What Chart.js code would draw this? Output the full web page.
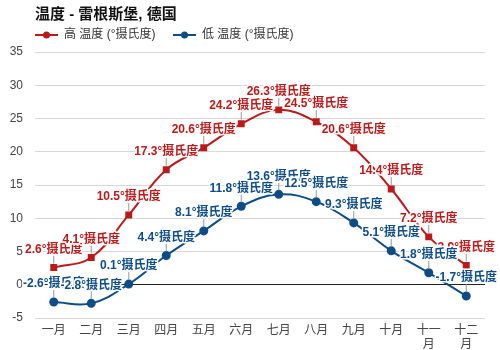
<!DOCTYPE html>
<html>
<head>
<meta charset="utf-8">
<script src="https://cdn.jsdelivr.net/npm/chart.js@4"></script>
<style>
  html, body { margin: 0; padding: 0; background: #fff; }
  #wrap { width: 500px; height: 350px; }
</style>
</head>
<body>
<div id="wrap"><canvas id="tempChart"></canvas></div>
<script>
const months = ["一月", "二月", "三月", "四月", "五月", "六月", "七月", "八月", "九月", "十月", ["十一", "月"], ["十二", "月"]];
const highTemps = [2.6, 4.1, 10.5, 17.3, 20.6, 24.2, 26.3, 24.5, 20.6, 14.4, 7.2, 2.9];
const lowTemps = [-2.6, -2.8, 0.1, 4.4, 8.1, 11.8, 13.6, 12.5, 9.3, 5.1, 1.8, -1.7];
const seriesNames = ["高 温度 (°摄氏度)", "低 温度 (°摄氏度)"];
const chartTitle = "温度 - 雷根斯堡, 德国";

const RED = "#bb1a1a";
const BLUE = "#0e4c86";
const FONT = '"Liberation Sans", "Noto Sans CJK SC", sans-serif';

// title + legend drawn at the top left, like the original
const headerPlugin = {
  id: "header",
  afterDraw(chart) {
    const ctx = chart.ctx;
    ctx.save();
    ctx.textBaseline = "middle";
    ctx.fillStyle = "#111";
    ctx.font = "bold 15px " + FONT;
    ctx.fillText(chartTitle, 35, 15);

    const items = [
      { x: 35, color: RED },
      { x: 173, color: BLUE }
    ];
    ctx.font = "12px " + FONT;
    items.forEach((it, i) => {
      ctx.strokeStyle = it.color;
      ctx.lineWidth = 2;
      ctx.beginPath();
      ctx.moveTo(it.x, 35);
      ctx.lineTo(it.x + 23, 35);
      ctx.stroke();
      ctx.fillStyle = it.color;
      ctx.beginPath();
      ctx.arc(it.x + 11.5, 35, 3.5, 0, Math.PI * 2);
      ctx.fill();
      ctx.fillStyle = "#333";
      ctx.fillText(seriesNames[i], it.x + 29, 35);
    });
    ctx.restore();
  }
};

// value labels above each point with a small connector
const valueLabels = {
  id: "valueLabels",
  afterDatasetsDraw(chart) {
    const ctx = chart.ctx;
    ctx.save();
    ctx.font = "bold 12px " + FONT;
    ctx.textAlign = "center";
    ctx.textBaseline = "middle";
    chart.data.datasets.forEach((ds, di) => {
      const meta = chart.getDatasetMeta(di);
      meta.data.forEach((pt, i) => {
        ctx.strokeStyle = "#999";
        ctx.lineWidth = 1;
        ctx.beginPath();
        ctx.moveTo(pt.x, pt.y - 12);
        ctx.lineTo(pt.x, pt.y - 4);
        ctx.stroke();
      });
    });
    chart.data.datasets.forEach((ds, di) => {
      const meta = chart.getDatasetMeta(di);
      meta.data.forEach((pt, i) => {
        const txt = ds.data[i].toFixed(1) + "°摄氏度";
        ctx.lineJoin = "round";
        ctx.strokeStyle = "#fff";
        ctx.lineWidth = 3;
        ctx.strokeText(txt, pt.x, pt.y - 18);
        ctx.fillStyle = ds.borderColor;
        ctx.fillText(txt, pt.x, pt.y - 18);
      });
    });
    ctx.restore();
  }
};

new Chart(document.getElementById("tempChart"), {
  type: "line",
  data: {
    labels: months,
    datasets: [
      {
        label: seriesNames[0],
        data: highTemps,
        borderColor: RED,
        backgroundColor: RED,
        borderWidth: 2,
        pointStyle: "rect",
        pointRadius: 3.5,
        tension: 0.4
      },
      {
        label: seriesNames[1],
        data: lowTemps,
        borderColor: BLUE,
        backgroundColor: BLUE,
        borderWidth: 2,
        pointStyle: "circle",
        pointRadius: 3.5,
        tension: 0.4
      }
    ]
  },
  options: {
    responsive: true,
    maintainAspectRatio: false,
    animation: false,
    layout: { padding: { top: 52, right: 15, bottom: 0, left: 0 } },
    plugins: {
      legend: { display: false },
      title: { display: false },
      tooltip: { enabled: false }
    },
    scales: {
      x: {
        offset: true,
        grid: { display: false },
        border: { display: false },
        ticks: { color: "#444", font: { size: 12, family: FONT, lineHeight: 1.2 }, padding: -3, maxRotation: 0, autoSkip: false },
        afterFit(s) { s.height = 32; }
      },
      y: {
        min: -5,
        max: 35,
        border: { display: false },
        grid: {
          drawTicks: false,
          color: c => c.tick.value === 0 ? "#222" : (c.tick.value % 5 === 0 ? "#d8d8d8" : "#efefef")
        },
        ticks: {
          stepSize: 2.5,
          color: "#444",
          font: { size: 12, family: FONT },
          padding: 12,
          callback: v => v % 5 === 0 ? v : ""
        },
        afterFit(s) { s.width = 35; }
      }
    }
  },
  plugins: [headerPlugin, valueLabels]
});
</script>
</body>
</html>
